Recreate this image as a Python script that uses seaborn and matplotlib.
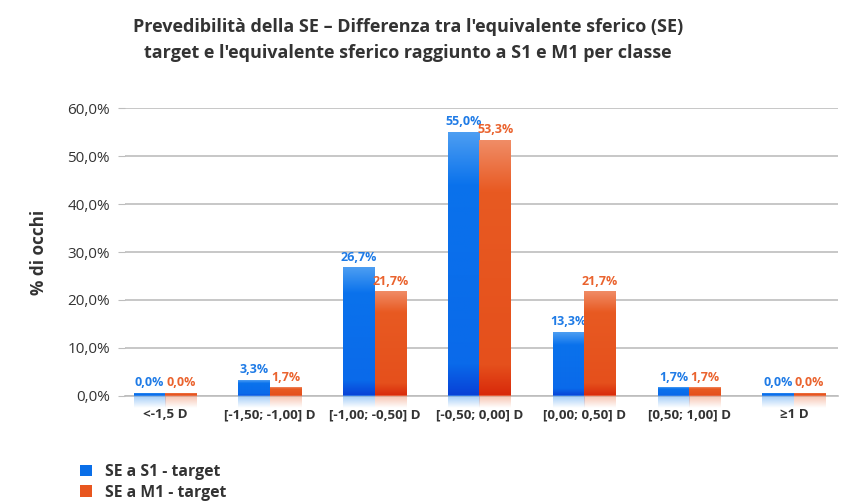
import numpy as np
import pandas as pd
import seaborn as sns
import matplotlib.pyplot as plt
from matplotlib.colors import LinearSegmentedColormap, to_rgb
from matplotlib.patches import Patch

# Dati
classi = ["<-1,5 D", "[-1,50; -1,00] D", "[-1,00; -0,50] D", "[-0,50; 0,00] D",
          "[0,00; 0,50] D", "[0,50; 1,00] D", "\u22651 D"]
se_s1 = [0.0, 3.3, 26.7, 55.0, 13.3, 1.7, 0.0]
se_m1 = [0.0, 1.7, 21.7, 53.3, 21.7, 1.7, 0.0]
serie = ["SE a S1 - target", "SE a M1 - target"]

df = pd.DataFrame({
    "classe": classi * 2,
    "serie": [serie[0]] * len(classi) + [serie[1]] * len(classi),
    "valore": se_s1 + se_m1,
})
# le barre a 0 vengono mostrate comunque come una sottile striscia
df["altezza"] = df["valore"].clip(lower=0.6)

blu = "#0a6fe8"
arancio = "#e8561f"
gradienti = {
    blu: ["#0840d6", "#0a6aea", "#0a72ec", "#4d9ef2"],
    arancio: ["#d8280a", "#e5501c", "#e85a22", "#f08c66"],
}
col_testo = {blu: "#1f7be6", arancio: "#ea632e"}

sns.set_style("white")
plt.rcParams["font.family"] = ["Open Sans", "DejaVu Sans"]

fig = plt.figure(figsize=(8.46, 5.04), dpi=100)
ax = fig.add_axes([0.148, 0.2143, 0.8425, 0.5714])

sns.barplot(data=df, x="classe", y="altezza", hue="serie", palette=[blu, arancio],
            width=0.6, saturation=1, legend=False, ax=ax)

# sostituisce le barre piatte con riempimenti sfumati + riflesso
colori = [blu] * len(classi) + [arancio] * len(classi)
valori = se_s1 + se_m1
for patch, col, v in zip(ax.patches, colori, valori):
    x0, w, h = patch.get_x(), patch.get_width(), patch.get_height()
    patch.set_visible(False)
    cmap = LinearSegmentedColormap.from_list("g", list(zip([0, 0.12, 0.8, 1.0], gradienti[col])))
    grad = np.linspace(0, 1, 256).reshape(-1, 1)
    ax.imshow(grad, extent=[x0, x0 + w, 0, h], origin="lower", cmap=cmap,
              aspect="auto", interpolation="bilinear", zorder=3)
    # riflesso sotto l'asse
    rgb = np.array(to_rgb(gradienti[col][-1]))
    refl = np.zeros((64, 1, 4))
    refl[:, 0, :3] = rgb
    refl[:, 0, 3] = np.linspace(0.0, 0.55, 64)
    ax.imshow(refl, extent=[x0, x0 + w, -2.6, 0], origin="lower", aspect="auto",
              interpolation="bilinear", zorder=3, clip_on=False)
    ax.annotate(f"{v:.1f}%".replace(".", ","), (x0 + w / 2, h), xytext=(0, 3),
                textcoords="offset points", ha="center", va="bottom",
                color=col_testo[col], fontsize=9, fontweight="bold")

ax.set_xlim(-0.38, 6.42)
ax.set_ylim(0, 60)
ax.set_yticks(np.arange(0, 61, 10))
ax.set_yticklabels([f"{t:.1f}%".replace(".", ",") for t in np.arange(0, 61, 10)],
                   fontsize=11, color="#333333")
ax.yaxis.grid(True, color="#bdbdbd", linewidth=1.2)
ax.set_axisbelow(True)
ax.tick_params(axis="y", which="both", left=True, length=5, color="#bdbdbd", pad=6)
ax.tick_params(axis="x", length=0, pad=9)
for lab in ax.get_xticklabels():
    lab.set_fontweight("bold")
    lab.set_fontsize(9.6)
    lab.set_color("#333333")
for s in ["left", "right", "top"]:
    ax.spines[s].set_visible(False)
ax.spines["bottom"].set_color("#bdbdbd")
ax.spines["bottom"].set_linewidth(1.2)
ax.set_xlabel("")
ax.set_ylabel("% di occhi", fontsize=12.3, fontweight="bold", color="#333333", labelpad=14)

fig.text(0.482, 0.921,
         "Prevedibilità della SE \u2013 Differenza tra l'equivalente sferico (SE)\n"
         "target e l'equivalente sferico raggiunto a S1 e M1 per classe",
         ha="center", va="center", fontsize=13, fontweight="bold", color="#333333",
         linespacing=1.6)

handles = [Patch(facecolor=blu, edgecolor="none"), Patch(facecolor=arancio, edgecolor="none")]
fig.legend(handles, serie, loc="upper left", bbox_to_anchor=(0.085, 0.095),
           frameon=False, borderpad=0, handlelength=0.75, handleheight=0.75,
           handletextpad=0.85, labelspacing=0.3,
           prop={"weight": "bold", "size": 11.3}, labelcolor="#333333")

fig.savefig("out.png", dpi=100)
